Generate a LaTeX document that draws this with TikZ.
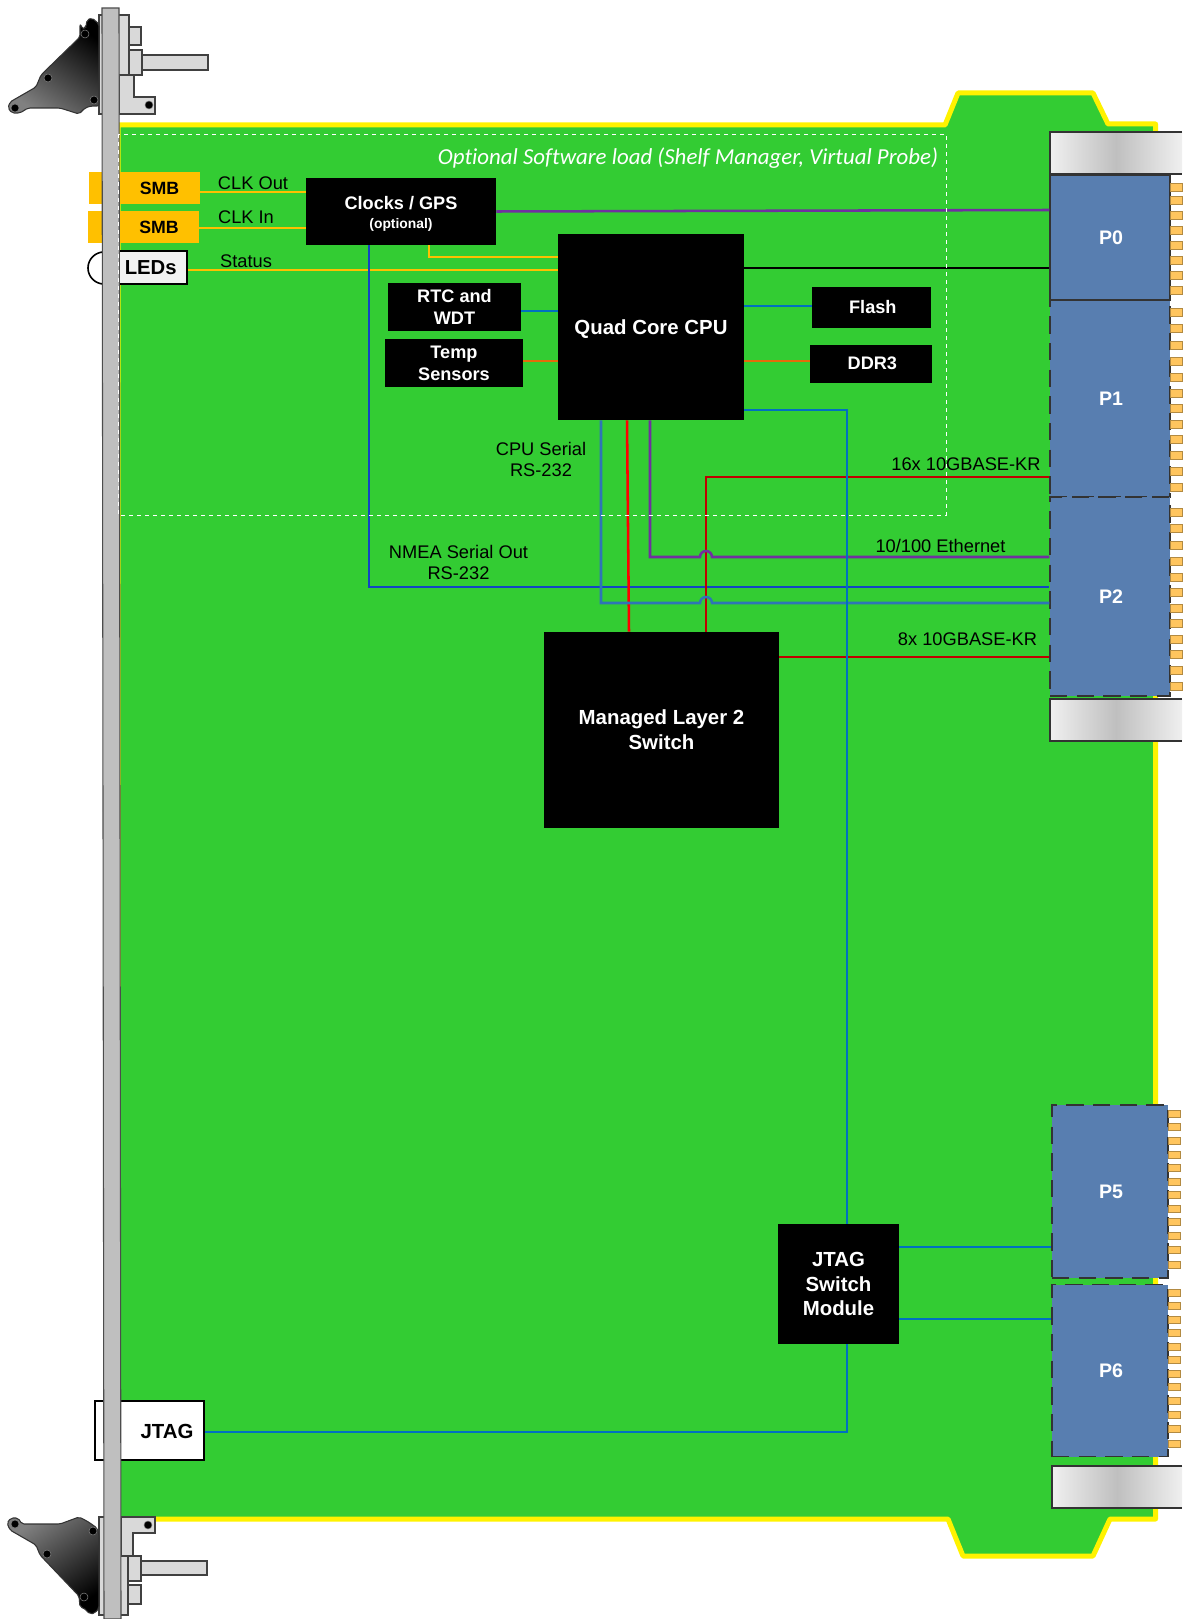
\documentclass[tikz,border=0pt]{standalone}
\usepackage{fontspec}
\setmainfont{Liberation Sans}
\newfontfamily\calibrifont[Ligatures=NoCommon]{Carlito}
\definecolor{boardgreen}{HTML}{33CC33}
\definecolor{smborange}{HTML}{FFC000}
\definecolor{connblue}{HTML}{587EB0}
\definecolor{padorange}{HTML}{FFC55E}
\definecolor{lineblue}{HTML}{0070C0}
\definecolor{gpsblue}{HTML}{1244C4}
\definecolor{steelblue}{HTML}{2E75B6}
\definecolor{linepurple}{HTML}{7030A0}
\definecolor{linebrown}{HTML}{E46C0A}
\definecolor{darkred}{HTML}{C00000}
\tikzset{
  px size/.style 2 args={minimum width=#1*0.75pt, minimum height=#2*0.75pt, inner sep=0pt},
  chipbox/.style={fill=black, text=white, align=center, font=\bfseries\fontsize{13.6}{16.5}\selectfont},
  bigchip/.style={chipbox, font=\bfseries\fontsize{15.3}{18.6}\selectfont},
  smbbox/.style={fill=smborange, font=\bfseries\fontsize{13.3}{16}\selectfont},
  connbox/.style={fill=connblue, draw=black!80, line width=1pt, text=white, font=\bfseries\fontsize{14.7}{17}\selectfont},
  conndash/.style={connbox, dash pattern=on 13pt off 7pt},
  sigtext/.style={align=center, inner sep=0pt, font=\fontsize{13.7}{15.8}\selectfont},
  hwpart/.style={fill=black!15, draw=black!75, line width=0.8pt},
  sig/.style={line width=1.9pt},
}
\begin{document}
\begin{tikzpicture}[x=0.75pt, y=-0.75pt]
  \useasboundingbox (0,0) rectangle (1182,1619);
  % board outline
  \draw[fill=boardgreen, draw=yellow, line width=3.75pt, line join=round]
    (118,125) -- (945,125) -- (958,93) -- (1093,93) -- (1108,124) -- (1155.5,124)
    -- (1155.5,1519) -- (1110,1519) -- (1093,1556) -- (963,1556) -- (948,1519) -- (118,1519) -- cycle;

  % top handle
  \draw[hwpart] (99,15) rectangle (129,114);
  \draw[hwpart] (129,27) rectangle (141,45);
  \draw[hwpart] (142,55) rectangle (208,70);
  \draw[hwpart] (129,50) rectangle (142,75);
  \draw[hwpart] (119,75) -- (134,75) -- (134,97) -- (155,97) -- (155,114) -- (119,114) -- cycle;
  \shade[top color=black, bottom color=black!50, shading angle=-35, draw=black!80, line width=0.8pt, rounded corners=1.5pt]
    (80,24) -- (83,29) -- (86,27) -- (87,20) -- (92,18) -- (99,24) -- (99,106) -- (91,106) -- (85,108)
    -- (79,114) -- (60,108) -- (28,108) -- (20,113) -- (12,113) -- (8,108) -- (10,102) -- (36,87) -- (41,75) -- (80,37) -- cycle;
  \foreach \hx/\hy in {85/34, 48/78, 94/100, 15/108, 149/105}
    \fill[black, draw=black!50, line width=0.4pt] (\hx,\hy) circle[radius=3pt];

  % bottom handle
  \draw[hwpart] (99,1517) rectangle (128,1615);
  \draw[hwpart] (128,1585) rectangle (141,1604);
  \draw[hwpart] (141,1561) rectangle (207,1575);
  \draw[hwpart] (128,1556) rectangle (141,1581);
  \draw[hwpart] (121,1517) -- (155,1517) -- (155,1533) -- (133,1533) -- (133,1556) -- (121,1556) -- cycle;
  \shade[top color=black!50, bottom color=black, shading angle=35, draw=black!80, line width=0.8pt, rounded corners=1.5pt]
    (79,1517) -- (85,1520) -- (90,1523) -- (97,1528) -- (99,1535) -- (99,1608) -- (95,1613) -- (90,1614)
    -- (86,1610) -- (84,1608) -- (80,1607) -- (79,1596) -- (40,1555) -- (36,1545) -- (10,1530) -- (7,1523)
    -- (11,1518) -- (18,1518) -- (22,1524) -- (60,1524) -- cycle;
  \foreach \hx/\hy in {15/1524, 93/1531, 47/1554, 84/1597, 148/1525}
    \fill[black, draw=black!50, line width=0.4pt] (\hx,\hy) circle[radius=3pt];

  % front panel parts
  \fill[smborange] (89,172) rectangle (104,204);
  \fill[smborange] (88,211) rectangle (104,243);
  \draw[fill=white, line width=1.2pt] (104,252) arc[start angle=90, end angle=270, radius=12pt];
  \node[smbbox, px size={81}{32}] (smbout) at (159.5,188) {SMB};
  \node[smbbox, px size={80}{32}] (smbin) at (159,227) {SMB};
  \node[draw=black, fill=black!5, line width=1.2pt, px size={68}{33}, font=\bfseries\fontsize{15.2}{17}\selectfont] (leds) at (153,267.5) {LEDs\hspace*{3.5pt}};
  \node[draw=black, fill=white, line width=1.2pt, px size={109}{59}] (jtagport) at (149.5,1430.5) {};
  \node[font=\bfseries\fontsize{15.3}{18}\selectfont] (jtagtxt) at (167,1431) {JTAG};
  \draw[fill=black!25, draw=black!70, line width=0.8pt] (102,8) -- (119,8) -- (121,1619) -- (104,1619) -- cycle;

  % chips
  \node[chipbox, px size={190}{67}] (clocks) at (401,211.5) {\rule{0pt}{13pt}Clocks / GPS\\[-2.5pt]{\fontsize{10.4}{12}\selectfont(optional)}};
  \node[bigchip, px size={186}{186}] (cpu) at (651,327) {\raisebox{-5.4pt}[0pt][0pt]{Quad Core CPU}};
  \node[chipbox, px size={133}{48}] (rtc) at (454.5,307) {RTC and\\WDT};
  \node[chipbox, px size={138}{48}] (temp) at (454,363) {Temp\\Sensors};
  \node[chipbox, px size={119}{41}] (flash) at (871.5,307.5) {\hspace*{2pt}Flash};
  \node[chipbox, px size={122}{38}] (ddr) at (871,364) {\hspace*{2pt}\raisebox{0.8pt}{DDR3}};
  \node[bigchip, px size={235}{196}] (switch) at (661.5,730) {Managed Layer 2\\Switch};
  \node[bigchip, px size={121}{120}] (jtagsw) at (838.5,1284) {JTAG\\Switch\\Module};

  % backplane connectors
  \node[conndash, px size={120}{197}] (p1) at (1110,398.5) {\hspace*{1.5pt}P1};
  \node[conndash, px size={120}{199}] (p2) at (1110,596.5) {\hspace*{1.5pt}P2};
  \node[connbox, px size={120}{125}] (p0) at (1110,237.5) {\hspace*{1.5pt}P0};
  \node[conndash, px size={116}{173}] (p5) at (1110,1191.5) {\hspace*{1.5pt}P5};
  \node[conndash, px size={116}{172}] (p6) at (1110,1370.5) {\hspace*{1.5pt}P6};
  \foreach \barx/\bary in {1050/132, 1050/699, 1052/1466}{
    \shade[left color=black!6, right color=black!6, middle color=black!25]
      (\barx,\bary) rectangle (1182,\bary+42);
    \draw[draw=black!80, line width=0.9pt] (1182,\bary) -- (\barx,\bary) -- (\barx,\bary+42) -- (1182,\bary+42);
  }
  \foreach \py in {187,200,215,230,245,260,275,290,312,328,345,361,377,393,408,424,439,455,471,487,512,528,545,561,577,592,608,623,639,654,670,686}
    \draw[fill=padorange, draw=padorange!70!black, line width=0.5pt] (1170.5,\py-4) rectangle (1182,\py+4);
  \foreach \py in {1114,1127,1141,1155,1168,1182,1195,1209,1222,1236,1250,1265,1293,1306,1320,1333,1347,1360,1374,1387,1401,1415,1429,1444}
    \draw[fill=padorange, draw=padorange!70!black, line width=0.5pt] (1168,\py-3.5) rectangle (1180,\py+3.5);

  % rows and columns of the connectors
  \foreach \rname/\ry in {rclkout/192, rclkin/228, rstatus/270, rgps/257, rsmall/311, rtemp/361, rflash/306, rblack/268,
      rkr/477, reth/557, rnmea/587, rserial/603, rkrb/657, rjtag/410, rjp/1432, rpfive/1247, rpsix/1319}
    \coordinate (\rname) at (0,\ry);
  \foreach \cname/\cx in {cgps/429, cnmea/369, cserial/601, ceth/650, ckr/706, cjtag/847, chopl/700}
    \coordinate (\cname) at (\cx,0);

  % connectors
  \draw[sig, smborange] (smbout.east |- rclkout) -- (clocks.west |- rclkout);
  \draw[sig, smborange] (smbin.east |- rclkin) -- (clocks.west |- rclkin);
  \draw[sig, smborange] (leds.east |- rstatus) -- (cpu.west |- rstatus);
  \draw[sig, smborange] (clocks.south -| cgps) |- (cpu.west |- rgps);
  \draw[sig, linepurple] (clocks.east) -- (p0.west |- 0,210);
  \draw[line width=2.2pt, black] (cpu.east |- rblack) -- (p0.west |- rblack);
  \draw[sig, lineblue] (rtc.east |- rsmall) -- (cpu.west |- rsmall);
  \draw[sig, linebrown] (temp.east |- rtemp) -- (cpu.west |- rtemp);
  \draw[sig, lineblue] (cpu.east |- rflash) -- (flash.west |- rflash);
  \draw[sig, linebrown] (cpu.east |- rtemp) -- (ddr.west |- rtemp);
  \draw[sig, gpsblue] (clocks.south -| cnmea) |- (p2.west |- rnmea);
  \draw[sig, red] (cpu.south -| 627,0) -- (switch.north -| 629,0);
  \draw[sig, darkred] (switch.north -| ckr) |- (p1.west |- rkr);
  \draw[sig, darkred] (switch.east |- rkrb) -- (p2.west |- rkrb);
  \draw[sig, linepurple] (cpu.south -| ceth) |- (chopl |- reth) arc[start angle=180, end angle=0, radius=4.5pt] -- (p2.west |- reth);
  \draw[sig, steelblue] (cpu.south -| cserial) |- (chopl |- rserial) arc[start angle=180, end angle=0, radius=4.5pt] -- (p2.west |- rserial);
  \draw[sig, lineblue] (cpu.east |- rjtag) -| (jtagsw.north -| cjtag);
  \draw[sig, lineblue] (jtagsw.south -| cjtag) |- (jtagport.east |- rjp);
  \draw[sig, lineblue] (jtagsw.east |- rpfive) -- (p5.west |- rpfive);
  \draw[sig, lineblue] (jtagsw.east |- rpsix) -- (p6.west |- rpsix);

  % software load region
  \draw[white, dashed, line width=0.7pt] (118,134) rectangle (946,515);

  % labels
  \node[sigtext] (lclkout) at (253,183) {CLK Out};
  \node[sigtext] (lclkin) at (246,217) {CLK In};
  \node[sigtext] (lstatus) at (246,261) {Status};
  \node[sigtext] (lserial) at (541,459.5) {CPU Serial\\RS-232};
  \node[sigtext] (lnmea) at (458.5,562.5) {NMEA Serial Out\\RS-232};
  \node[sigtext] (lkr) at (966,464) {16x 10GBASE-KR};
  \node[sigtext] (leth) at (940.5,545.5) {10/100 Ethernet};
  \node[sigtext] (lkrb) at (967.5,639.5) {8x 10GBASE-KR};
  \node[text=white, font=\calibrifont\itshape\fontsize{17.15}{20}\selectfont] (lsoft) at (688,158) {Optional Software load (Shelf Manager, Virtual Probe)};
\end{tikzpicture}
\end{document}
